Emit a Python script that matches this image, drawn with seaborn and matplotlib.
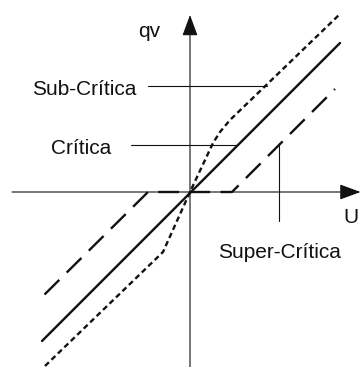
import numpy as np
import pandas as pd
import matplotlib
matplotlib.use("Agg")
import matplotlib.pyplot as plt
import seaborn as sns

# Curves qv(U) (origin at the axis crossing)
U_crit = [-14.8, 15.0]
qv_crit = [-14.9, 14.9]

U_sub = [-14.5, -2.7, 0.0, 2.3, 3.0, 4.0, 15.0]
qv_sub = [-17.4, -6.0, 0.0, 4.9, 6.0, 7.2, 17.8]

U_super = [-15.0, -4.2, 4.2, 14.5]
qv_super = [-10.7, 0.0, 0.0, 10.3]

sns.set_style("white")
plt.rcParams['font.family'] = ['Liberation Sans', 'DejaVu Sans']

fig = plt.figure(figsize=(3.61, 3.67), dpi=100)
ax = fig.add_axes([0, 0, 1, 1])
ax.set_xlim(-19.0, 17.1)
ax.set_ylim(-17.5, 19.2)
ax.axis("off")

ink = "#111111"

# axes with arrow heads
arrow = dict(arrowstyle="-|>,head_length=1.3,head_width=0.48", mutation_scale=10,
             lw=0.8, color=ink, shrinkA=0, shrinkB=0)
ax.annotate("", xy=(17.05, 0), xytext=(-17.8, 0), arrowprops=arrow)
ax.annotate("", xy=(0, 17.7), xytext=(0, -17.5), arrowprops=arrow)

# the three curves
sns.lineplot(x=U_crit, y=qv_crit, sort=False, estimator=None, color=ink, lw=1.7, ax=ax)
sns.lineplot(x=U_sub, y=qv_sub, sort=False, estimator=None, color=ink, lw=1.7,
             linestyle=(0, (2.3, 1.5)), ax=ax)
sns.lineplot(x=U_super, y=qv_super, sort=False, estimator=None, color=ink, lw=1.7,
             linestyle=(10.5, (8.8, 4.4)), ax=ax)

# labels with leader lines
ax.plot([-4.2, 7.7], [10.6, 10.6], color=ink, lw=0.8)
ax.text(-15.8, 9.7, "Sub-Crítica", fontsize=15, color=ink, va="baseline", ha="left")

ax.plot([-5.9, 4.7], [4.7, 4.7], color=ink, lw=0.8)
ax.text(-13.9, 3.8, "Crítica", fontsize=15, color=ink, va="baseline", ha="left")

ax.plot([8.9, 8.9], [4.9, -2.9], color=ink, lw=0.8)
ax.text(2.8, -6.6, "Super-Crítica", fontsize=15, color=ink, va="baseline", ha="left")

ax.text(-5.2, 15.5, "qv", fontsize=15, color=ink, va="baseline", ha="left")
ax.text(15.3, -3.1, "U", fontsize=15, color=ink, va="baseline", ha="left")

fig.savefig("out.png", dpi=100)
